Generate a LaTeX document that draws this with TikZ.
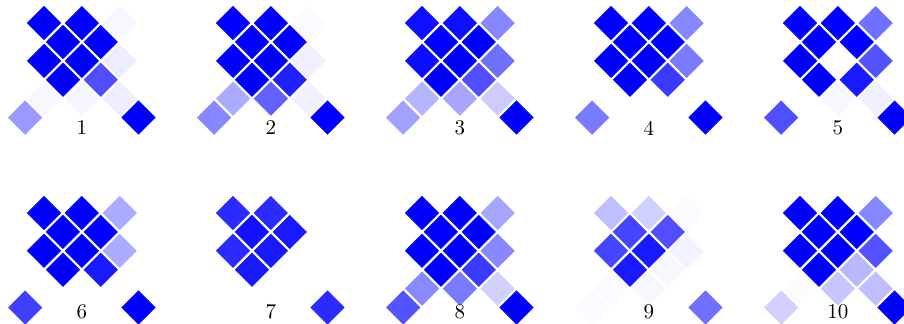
\documentclass[tikz,border=0pt]{standalone}
\usetikzlibrary{shapes.geometric}
\begin{document}
\begin{tikzpicture}[x=9pt, y=-9pt]
    \tikzstyle{cell} = [diamond, minimum width=18pt, minimum height=18pt,
      inner sep=0pt, draw=white, line width=0.8pt]
    \tikzstyle{number} = [inner sep=0pt]

    \useasboundingbox (0,0) rectangle (47.83,17.14);

    \foreach \n/\i/\j/\vals in {
      1/0/0/{100,100,3,100,100,100,100,7,100,69,3,4,7,40,100},
      2/0/1/{100,100,2,100,100,100,100,6,100,87,33,62,6,47,100},
      3/0/2/{94,94,47,100,100,95,100,56,100,69,29,35,20,37,100},
      4/0/3/{100,100,47,100,100,100,100,52,100,77,0,0,0,52,100},
      5/0/4/{100,100,56,100,100,100,0,67,100,90,0,3,6,69,100},
      6/1/0/{100,100,33,100,100,100,100,33,100,90,0,0,0,75,100},
      7/1/1/{83,83,0,93,90,83,90,0,90,0,0,0,0,0,83},
      8/1/2/{100,100,35,100,100,100,100,47,100,77,46,52,18,67,100},
      9/1/3/{25,18,2,73,69,73,90,5,90,3,2,3,0,2,56},
      10/1/4/{100,100,47,100,100,100,100,67,100,28,1,22,25,18,100}%
    }{
      \foreach \v [count=\k from 0] in \vals {
        \pgfmathtruncatemacro\r{{0,0,0,1,1,2,2,2,3,3,4,4,4,5,5}[\k]}
        \pgfmathtruncatemacro\c{{1,3,5,2,4,1,3,5,2,4,1,3,5,0,6}[\k]}
        \node (c\n-\r-\c) [cell, fill=blue!\v] at ({1.33+10*\j+\c}, {1.22+10.05*\i+\r}) {};
      }
      \node (num\n) [number] at ({4.33+10*\j}, {6.77+9.7*\i}) {\n};
    }
\end{tikzpicture}
\end{document}
